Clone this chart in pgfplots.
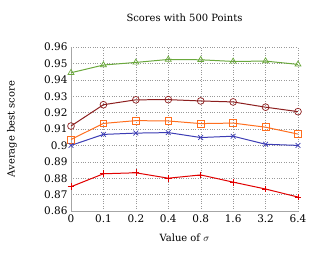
\documentclass[border=0pt]{standalone}
\usepackage{fontspec}
\setmainfont{DejaVu Serif}
\usepackage{pgfplots}
\pgfplotsset{compat=1.18}
\definecolor{cgreen}{RGB}{106,168,60}
\definecolor{cdred}{RGB}{140,30,30}
\definecolor{corange}{RGB}{255,110,30}
\definecolor{cblue}{RGB}{60,60,180}
\definecolor{cred}{RGB}{225,0,0}
\begin{document}
\begin{tikzpicture}
\path[use as bounding box] (-71bp,-51bp) rectangle (250bp,211bp);
\begin{axis}[
  scale only axis, width=227bp, height=164bp,
  xmin=0, xmax=7, ymin=0.86, ymax=0.96,
  xtick={0,1,2,3,4,5,6,7},
  xticklabels={0,0.1,0.2,0.4,0.8,1.6,3.2,6.4},
  ytick={0.86,0.87,0.88,0.89,0.9,0.91,0.92,0.93,0.94,0.95,0.96},
  yticklabels={0.86,0.87,0.88,0.89,0.9,0.91,0.92,0.93,0.94,0.95,0.96},
  axis x line*=bottom, axis y line*=left,
  axis line style={gray!70, line width=0.6pt},
  grid=major, grid style={dotted, gray!80},
  tick style={draw=none},
  /pgf/number format/assume math mode=true,
  ticklabel style={font=\fontsize{10.5}{12}\selectfont},
  label style={font=\fontsize{10}{12}\selectfont},
  title style={font=\fontsize{10}{12}\selectfont, at={(axis description cs:0.5,1.14)}, anchor=center},
  title={Scores with 500 Points},
  xlabel={Value of $\sigma$},
  ylabel={Average best score},
  xlabel style={at={(axis description cs:0.5,-0.165)}, anchor=center},
  ylabel style={at={(axis description cs:-0.26,0.5)}, anchor=center},
  every axis plot/.append style={line width=1pt, mark size=3.4pt, mark options={solid, line width=0.7pt}},
]
\addplot[color=cgreen, mark=triangle] coordinates {(0,0.9443)(1,0.9490)(2,0.9506)(3,0.9524)(4,0.9522)(5,0.9512)(6,0.9514)(7,0.9494)};
\addplot[color=cdred, mark=o] coordinates {(0,0.9118)(1,0.9248)(2,0.9278)(3,0.9279)(4,0.9271)(5,0.9265)(6,0.9233)(7,0.9206)};
\addplot[color=corange, mark=square] coordinates {(0,0.9036)(1,0.9134)(2,0.9151)(3,0.9149)(4,0.9133)(5,0.9136)(6,0.9111)(7,0.9069)};
\addplot[color=cblue, mark=x] coordinates {(0,0.9000)(1,0.9067)(2,0.9075)(3,0.9078)(4,0.9048)(5,0.9056)(6,0.9007)(7,0.9000)};
\addplot[color=cred, mark=+] coordinates {(0,0.8748)(1,0.8827)(2,0.8833)(3,0.8800)(4,0.8820)(5,0.8776)(6,0.8734)(7,0.8685)};
\end{axis}
\end{tikzpicture}
\end{document}
